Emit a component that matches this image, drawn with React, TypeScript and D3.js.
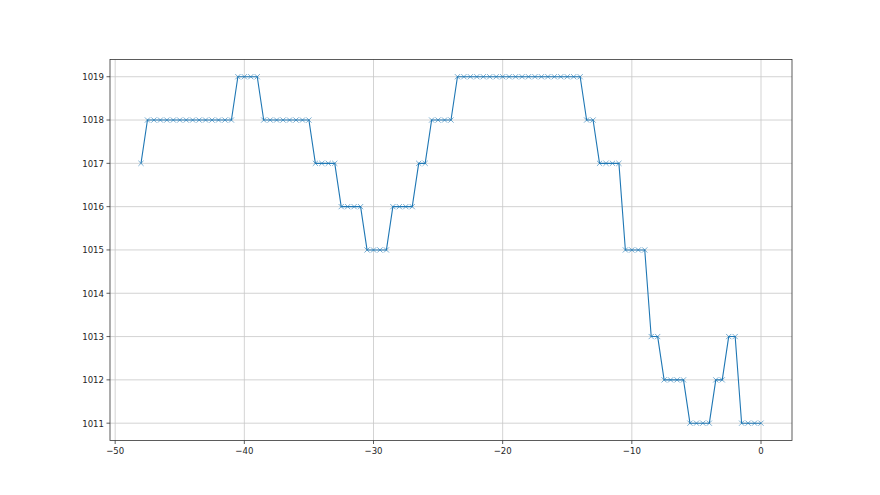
import * as d3 from "d3";

// hours before now, half-hour steps
const hours: number[] = d3.range(-48, 0.25, 0.5);

// pressure readings (hPa)
const pressure: number[] = [
  1017,
  1018, 1018, 1018, 1018, 1018, 1018, 1018, 1018, 1018, 1018, 1018, 1018, 1018, 1018,
  1019, 1019, 1019, 1019,
  1018, 1018, 1018, 1018, 1018, 1018, 1018, 1018,
  1017, 1017, 1017, 1017,
  1016, 1016, 1016, 1016,
  1015, 1015, 1015, 1015,
  1016, 1016, 1016, 1016,
  1017, 1017,
  1018, 1018, 1018, 1018,
  1019, 1019, 1019, 1019, 1019, 1019, 1019, 1019, 1019, 1019,
  1019, 1019, 1019, 1019, 1019, 1019, 1019, 1019, 1019, 1019,
  1018, 1018,
  1017, 1017, 1017, 1017,
  1015, 1015, 1015, 1015,
  1013, 1013,
  1012, 1012, 1012, 1012,
  1011, 1011, 1011, 1011,
  1012, 1012,
  1013, 1013,
  1011, 1011, 1011, 1011,
];

const xTicks = [-50, -40, -30, -20, -10, 0];
const yTicks = [1011, 1012, 1013, 1014, 1015, 1016, 1017, 1018, 1019];

const W = 880;
const H = 495;
const margin = { top: 59.4, right: 88, bottom: 54.5, left: 110 };
const fontFamily = "'DejaVu Sans Condensed', 'Liberation Sans Narrow', 'Liberation Sans', sans-serif";

export default function App() {
  const innerW = W - margin.left - margin.right;
  const innerH = H - margin.top - margin.bottom;
  const data = hours.map((h, i) => ({ h, p: pressure[i] }));

  const xPad = (0 - -48) * 0.05;
  const x = d3.scaleLinear().domain([-48 - xPad, 0 + xPad]).range([0, innerW]);
  const yPad = (1019 - 1011) * 0.05;
  const y = d3.scaleLinear().domain([1011 - yPad, 1019 + yPad]).range([innerH, 0]);

  const line = d3
    .line<{ h: number; p: number }>()
    .x((d) => x(d.h))
    .y((d) => y(d.p));

  const color = "#1f77b4";
  const m = 2.6; // marker half size

  return (
    <svg
      width={W}
      height={H}
      style={{ position: "absolute", left: 0, top: 0, background: "#fff" }}
    >
      <g transform={`translate(${margin.left},${margin.top})`}>
        {/* grid */}
        {xTicks.map((t) => (
          <line key={"gx" + t} x1={x(t)} x2={x(t)} y1={0} y2={innerH} stroke="#c8c8c8" strokeWidth={0.8} />
        ))}
        {yTicks.map((t) => (
          <line key={"gy" + t} x1={0} x2={innerW} y1={y(t)} y2={y(t)} stroke="#c8c8c8" strokeWidth={0.8} />
        ))}

        {/* series */}
        <path d={line(data) || ""} fill="none" stroke={color} strokeWidth={1.1} />
        {data.map((d, i) => (
          <path
            key={i}
            d={`M${x(d.h) - m},${y(d.p) - m}L${x(d.h) + m},${y(d.p) + m}M${x(d.h) - m},${y(d.p) + m}L${x(d.h) + m},${y(d.p) - m}`}
            stroke={color}
            strokeOpacity={0.75}
            strokeWidth={0.8}
            fill="none"
          />
        ))}

        {/* frame */}
        <rect x={0} y={0} width={innerW} height={innerH} fill="none" stroke="#333" strokeWidth={0.8} />

        {/* x axis */}
        {xTicks.map((t) => (
          <g key={"xt" + t} transform={`translate(${x(t)},${innerH})`}>
            <line y1={0} y2={3.5} stroke="#333" strokeWidth={0.8} />
            <text y={13} textAnchor="middle" fontSize={9.5} fontFamily={fontFamily} fill="#262626">
              {t < 0 ? `\u2212${Math.abs(t)}` : t}
            </text>
          </g>
        ))}

        {/* y axis */}
        {yTicks.map((t) => (
          <g key={"yt" + t} transform={`translate(0,${y(t)})`}>
            <line x1={-3.5} x2={0} stroke="#333" strokeWidth={0.8} />
            <text x={-6} dy="0.35em" textAnchor="end" fontSize={9.5} fontFamily={fontFamily} fill="#262626">
              {t}
            </text>
          </g>
        ))}
      </g>
    </svg>
  );
}
